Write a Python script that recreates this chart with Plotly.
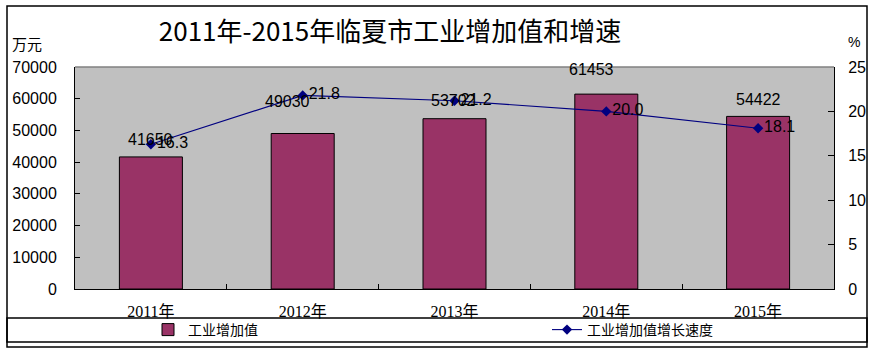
import plotly.graph_objects as go

# ---- data ----
categories = ["2011年", "2012年", "2013年", "2014年", "2015年"]
value_added = [41650, 49030, 53702, 61453, 54422]       # 万元
growth_rate = [16.3, 21.8, 21.2, 20.0, 18.1]            # %
bar_label_yshift = [17, 32, 18, 25, 17]
bar_label_xshift = [0, -15, -1, -15, 0]

TITLE = "2011年-2015年临夏市工业增加值和增速"
NUM_FONT = "Liberation Sans, Arial, Noto Sans CJK SC"
CJK_FONT = "Noto Sans CJK SC, Liberation Sans"
TICK_FONT = "Liberation Serif, Noto Sans CJK SC"

W, H = 876, 354
ML, MR, MT, MB = 75, 42, 67, 65
PW, PH = W - ML - MR, H - MT - MB


def px_x(p):
    return (p - ML) / PW


def px_y(p):
    return (H - MB - p) / PH


fig = go.Figure()
fig.add_trace(go.Bar(
    x=categories, y=value_added, name="工业增加值",
    marker=dict(color="#993366", line=dict(color="black", width=1)),
    yaxis="y", legend="legend",
))
fig.add_trace(go.Scatter(
    x=categories, y=growth_rate, name="工业增加值增长速度",
    mode="lines+markers+text",
    line=dict(color="#000080", width=1.1),
    marker=dict(symbol="diamond", size=8, color="#000080"),
    text=[f"{v:.1f}" for v in growth_rate],
    textposition="middle right",
    textfont=dict(family=NUM_FONT, size=16, color="black"),
    yaxis="y2", legend="legend2",
))

annotations = []
for c, v, dy, dx in zip(categories, value_added, bar_label_yshift, bar_label_xshift):
    annotations.append(dict(
        x=c, y=v, xref="x", yref="y", text=str(v), showarrow=False,
        yshift=dy, xshift=dx, yanchor="middle",
        font=dict(family=NUM_FONT, size=16, color="black"),
    ))
annotations.append(dict(
    x=px_x(10), y=px_y(44), xref="paper", yref="paper", text="万元",
    showarrow=False, xanchor="left", yanchor="middle",
    font=dict(family=CJK_FONT, size=15, color="black"),
))
annotations.append(dict(
    x=px_x(846), y=px_y(42), xref="paper", yref="paper", text="%",
    showarrow=False, xanchor="left", yanchor="middle",
    font=dict(family=NUM_FONT, size=14, color="black"),
))

shapes = [
    dict(type="rect", xref="paper", yref="paper",
         x0=px_x(7), x1=px_x(867), y0=px_y(347), y1=px_y(6),
         line=dict(color="black", width=1.5), fillcolor="rgba(0,0,0,0)", layer="above"),
    dict(type="rect", xref="paper", yref="paper",
         x0=px_x(7), x1=px_x(867), y0=px_y(342), y1=px_y(318),
         line=dict(color="black", width=1.5), fillcolor="rgba(0,0,0,0)", layer="above"),
    dict(type="line", xref="paper", yref="paper", x0=0, x1=1, y0=1, y1=1,
         line=dict(color="#808080", width=1.5), layer="above"),
]

legend_common = dict(orientation="h", xanchor="left", yanchor="middle",
                     bgcolor="rgba(0,0,0,0)",
                     font=dict(family=CJK_FONT, size=14, color="black"))

fig.update_layout(
    width=W, height=H,
    margin=dict(l=ML, r=MR, t=MT, b=MB, pad=0, autoexpand=False),
    paper_bgcolor="white", plot_bgcolor="#C0C0C0",
    title=dict(text=TITLE, x=390 / W, xanchor="center", xref="container",
               y=1 - 32 / H, yanchor="middle", yref="container",
               font=dict(family=CJK_FONT, size=26, color="black")),
    bargap=0.585,
    showlegend=True,
    legend=dict(x=px_x(148), y=px_y(330), **legend_common),
    legend2=dict(x=px_x(547), y=px_y(330), **legend_common),
    xaxis=dict(type="category", showline=True, linecolor="black", linewidth=1,
               ticks="inside", ticklen=5, tickcolor="black", tickson="boundaries",
               showgrid=False, zeroline=False,
               tickfont=dict(family=TICK_FONT, size=16, color="black"),
               ticklabelstandoff=8),
    yaxis=dict(range=[0, 70000], dtick=10000, showline=True, linecolor="black",
               linewidth=1, ticks="inside", ticklen=5, tickcolor="black",
               showgrid=False, zeroline=False, tickformat="d",
               tickfont=dict(family=NUM_FONT, size=16, color="black"),
               ticklabelstandoff=14),
    yaxis2=dict(range=[0, 25], dtick=5, overlaying="y", side="right",
                showline=True, linecolor="black", linewidth=1,
                ticks="inside", ticklen=6, tickcolor="black",
                showgrid=False, zeroline=False,
                tickfont=dict(family=NUM_FONT, size=16, color="black"),
                ticklabelstandoff=10),
    annotations=annotations,
    shapes=shapes,
)

fig.write_html("out.html")
